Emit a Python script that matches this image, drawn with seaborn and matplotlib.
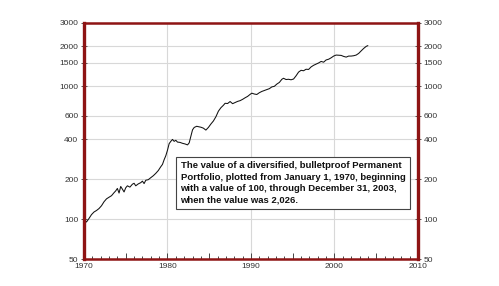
import matplotlib
matplotlib.use("Agg")
import matplotlib.pyplot as plt
import matplotlib.ticker as mticker
import seaborn as sns
import pandas as pd

years = [1970.0, 1970.3, 1970.6, 1970.9, 1971.2, 1971.5, 1971.8, 1972.1, 1972.4, 1972.7,
         1973.0, 1973.3, 1973.6, 1973.8, 1974.0, 1974.2, 1974.4, 1974.6, 1974.8, 1975.0,
         1975.2, 1975.5, 1975.8, 1976.0, 1976.2, 1976.5, 1976.8, 1977.0, 1977.2, 1977.4,
         1977.7, 1978.0, 1978.3, 1978.6, 1978.9, 1979.2, 1979.4, 1979.6, 1979.8, 1980.0,
         1980.2, 1980.4, 1980.6, 1980.8, 1981.0, 1981.2, 1981.5, 1981.8, 1982.1, 1982.4,
         1982.6, 1982.8, 1983.0, 1983.2, 1983.5, 1983.8, 1984.0, 1984.3, 1984.6, 1984.9,
         1985.2, 1985.5, 1985.8, 1986.1, 1986.4, 1986.7, 1986.9, 1987.2, 1987.5, 1987.8,
         1988.1, 1988.4, 1988.7, 1989.0, 1989.3, 1989.6, 1989.9, 1990.1, 1990.4, 1990.7,
         1991.0, 1991.3, 1991.6, 1991.9, 1992.2, 1992.5, 1992.8, 1993.1, 1993.4, 1993.7,
         1993.9, 1994.2, 1994.5, 1994.8, 1995.1, 1995.4, 1995.7, 1996.0, 1996.3, 1996.6,
         1996.9, 1997.2, 1997.5, 1997.8, 1998.1, 1998.4, 1998.7, 1999.0, 1999.3, 1999.6,
         1999.9, 2000.2, 2000.5, 2000.8, 2001.1, 2001.4, 2001.7, 2002.0, 2002.3, 2002.6,
         2002.9, 2003.2, 2003.5, 2003.8, 2004.0]
values = [100, 95, 101, 108, 113, 116, 120, 126, 135, 142,
          146, 150, 158, 163, 170, 157, 176, 168, 160, 172,
          178, 174, 183, 186, 178, 184, 188, 193, 185, 196,
          198, 205, 212, 221, 232, 248, 258, 280, 300, 330,
          370, 385, 398, 385, 392, 380, 378, 372, 368, 362,
          375, 420, 470, 490, 500, 495, 492, 484, 468, 490,
          520, 548, 590, 650, 690, 720, 745, 742, 768, 740,
          755, 770, 780, 798, 820, 840, 870, 888, 875, 868,
          895, 915, 930, 945, 960, 990, 1000, 1040, 1070, 1130,
          1150, 1125, 1130, 1120, 1135, 1200, 1280, 1320, 1310, 1345,
          1340, 1400, 1440, 1470, 1500, 1540, 1520, 1580, 1600, 1640,
          1690, 1720, 1715, 1710, 1680, 1660, 1690, 1690, 1700, 1720,
          1770, 1850, 1930, 2000, 2026]

y_ticks = [50, 100, 200, 400, 600, 1000, 1500, 2000, 3000]
x_ticks = [1970, 1980, 1990, 2000, 2010]
x_mid_ticks = [1975, 1985, 1995, 2005]
note = ("The value of a diversified, bulletproof Permanent\n"
        "Portfolio, plotted from January 1, 1970, beginning\n"
        "with a value of 100, through December 31, 2003,\n"
        "when the value was 2,026.")

df = pd.DataFrame({"year": years, "value": values})

sns.set_style("white")
plt.rcParams["font.family"] = ["Liberation Sans", "DejaVu Sans"]

fig = plt.figure(figsize=(4.99, 2.86), dpi=100)
ax = fig.add_axes([0.1683, 0.0944, 0.6693, 0.8252])

sns.lineplot(data=df, x="year", y="value", ax=ax, color="#111111", linewidth=0.75)

ax.set_yscale("log")
ax.set_ylim(50, 3000)
ax.set_xlim(1970, 2010)
ax.yaxis.set_major_locator(mticker.FixedLocator(y_ticks))
ax.yaxis.set_major_formatter(mticker.FixedFormatter([str(t) for t in y_ticks]))
ax.yaxis.set_minor_locator(mticker.NullLocator())

all_x = sorted(x_ticks + x_mid_ticks)
ax.xaxis.set_major_locator(mticker.FixedLocator(all_x))
ax.xaxis.set_major_formatter(mticker.FixedFormatter(
    [str(t) if t in x_ticks else "" for t in all_x]))
ax.xaxis.set_minor_locator(mticker.MultipleLocator(1))

ax.yaxis.grid(True, which="major", color="#d8d8d8", linewidth=0.8)
ax.xaxis.grid(False)
for t in x_ticks[1:-1]:
    ax.axvline(t, color="#d8d8d8", linewidth=0.8, zorder=0.5)
ax.set_xlabel("")
ax.set_ylabel("")

ax.tick_params(axis="y", which="major", left=True, right=True, labelleft=True,
               labelright=True, direction="inout", length=4, width=0.7,
               color="#555555", labelsize=6, labelcolor="#333333", pad=2)
ax.tick_params(axis="x", which="major", bottom=True, direction="in", length=4.5,
               width=0.7, color="#444444", labelsize=6, labelcolor="#333333", pad=3)
ax.tick_params(axis="x", which="minor", bottom=True, direction="in", length=2.5,
               width=0.7, color="#444444")

for side in ["left", "right"]:
    ax.spines[side].set_color("#8e1414")
    ax.spines[side].set_linewidth(2.4)
for side in ["top", "bottom"]:
    ax.spines[side].set_color("#8e1414")
    ax.spines[side].set_linewidth(1.8)

ax.text(0.289, 0.415, note, transform=ax.transAxes, ha="left", va="top",
        fontsize=6.8, fontweight="bold", color="#111111", linespacing=1.35,
        bbox=dict(boxstyle="square,pad=0.45", fc="white", ec="#444444", lw=0.8),
        zorder=5)

fig.savefig("out.png", dpi=100)
